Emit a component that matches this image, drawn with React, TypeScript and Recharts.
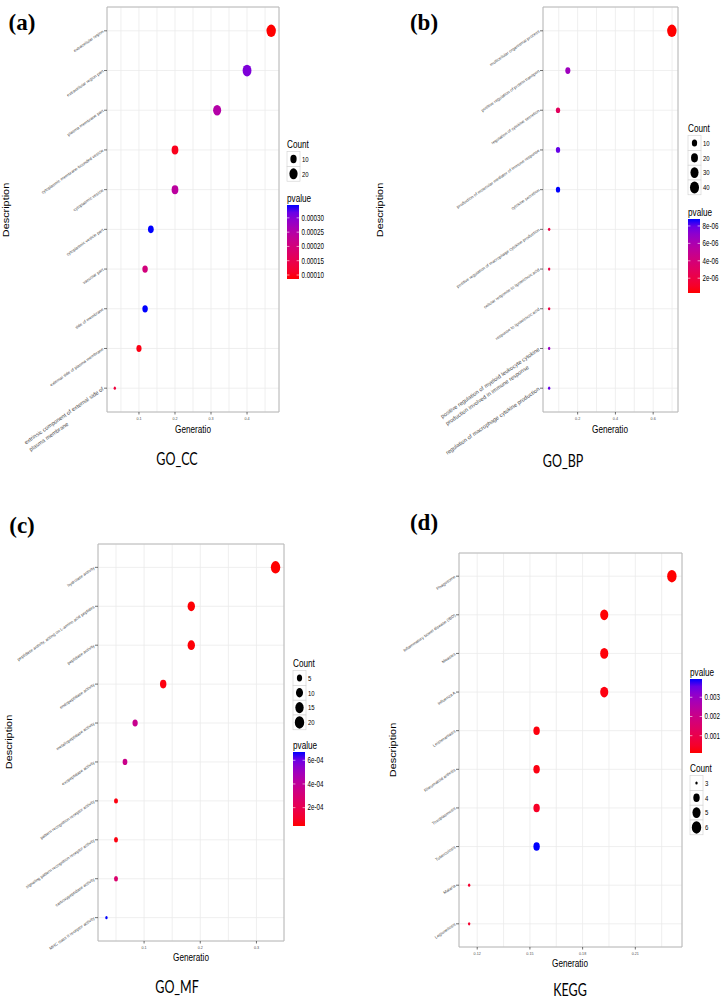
import { ScatterChart, Scatter, XAxis, YAxis, CartesianGrid, ReferenceArea } from "recharts";

const SANS = '"Liberation Sans", Arial, sans-serif';
const STRETCH = 1.33; // the figure is stretched vertically

// ---- (a) GO_CC ----
const ccTerms = [
  "extracellular region",
  "extracellular region part",
  "plasma membrane part",
  "cytoplasmic membrane-bounded vesicle",
  "cytoplasmic vesicle",
  "cytoplasmic vesicle part",
  "vacuolar part",
  "side of membrane",
  "external side of plasma membrane",
  "extrinsic component of external side of\nplasma membrane",
];
const ccRatio = [0.467, 0.4, 0.317, 0.2, 0.2, 0.133, 0.117, 0.117, 0.1, 0.033];
const ccCount = [28, 24, 19, 12, 12, 8, 7, 7, 6, 2];
const ccPvalue = [0.000086, 0.000305, 0.00025, 0.0001, 0.00024, 0.000345, 0.0002, 0.000345, 0.000095, 0.00013];
const ccMajor = [0.1, 0.2, 0.3, 0.4];
const ccMinor = [0.05, 0.15, 0.25, 0.35, 0.45];
const ccBig = [9];
const ccCountBreaks = [10, 20];
const ccPBreaks = [0.0001, 0.00015, 0.0002, 0.00025, 0.0003];
const ccPLabels = ["0.00010", "0.00015", "0.00020", "0.00025", "0.00030"];

// ---- (b) GO_BP ----
const bpTerms = [
  "multicellular organismal process",
  "positive regulation of protein transport",
  "regulation of cytokine secretion",
  "production of molecular mediator of immune response",
  "cytokine secretion",
  "positive regulation of macrophage cytokine production",
  "cellular response to lipoteichoic acid",
  "response to lipoteichoic acid",
  "positive regulation of myeloid leukocyte cytokine\nproduction involved in immune response",
  "regulation of macrophage cytokine production",
];
const bpRatio = [0.699, 0.148, 0.096, 0.096, 0.096, 0.049, 0.049, 0.049, 0.049, 0.049];
const bpCount = [44, 9, 6, 6, 6, 3, 3, 3, 3, 3];
const bpPvalue = [3e-7, 6.5e-6, 2.9e-6, 8.0e-6, 8.8e-6, 2.0e-6, 2.0e-6, 2.0e-6, 6.7e-6, 8.0e-6];
const bpMajor = [0.2, 0.4, 0.6];
const bpMinor = [0.1, 0.3, 0.5, 0.7];
const bpBig = [8, 9];
const bpCountBreaks = [10, 20, 30, 40];
const bpPBreaks = [2e-6, 4e-6, 6e-6, 8e-6];
const bpPLabels = ["2e-06", "4e-06", "6e-06", "8e-06"];

// ---- (c) GO_MF ----
const mfTerms = [
  "hydrolase activity",
  "peptidase activity, acting on L-amino acid peptides",
  "peptidase activity",
  "endopeptidase activity",
  "metallopeptidase activity",
  "exopeptidase activity",
  "pattern recognition receptor activity",
  "signaling pattern recognition receptor activity",
  "carboxypeptidase activity",
  "MHC class II receptor activity",
];
const mfRatio = [0.334, 0.184, 0.184, 0.134, 0.084, 0.066, 0.05, 0.05, 0.05, 0.033];
const mfCount = [20, 11, 11, 8, 5, 4, 3, 3, 3, 2];
const mfPvalue = [4.5e-5, 5e-5, 5.2e-5, 6e-5, 3.7e-4, 3.6e-4, 6e-5, 6e-5, 2.8e-4, 6.7e-4];
const mfMajor = [0.1, 0.2, 0.3];
const mfMinor = [0.05, 0.15, 0.25];
const mfCountBreaks = [5, 10, 15, 20];
const mfPBreaks = [2e-4, 4e-4, 6e-4];
const mfPLabels = ["2e-04", "4e-04", "6e-04"];

// ---- (d) KEGG ----
const keggTerms = [
  "Phagosome",
  "Inflammatory bowel disease (IBD)",
  "Measles",
  "Influenza A",
  "Leishmaniasis",
  "Rheumatoid arthritis",
  "Toxoplasmosis",
  "Tuberculosis",
  "Malaria",
  "Legionellosis",
];
const keggRatio = [0.2308, 0.1923, 0.1923, 0.1923, 0.1538, 0.1538, 0.1538, 0.1538, 0.1154, 0.1154];
const keggCount = [6, 5, 5, 5, 4, 4, 4, 4, 3, 3];
const keggPvalue = [0.0001, 0.00012, 0.00015, 0.0002, 0.00018, 0.00022, 0.00045, 0.00395, 0.00055, 0.00055];
const keggMajor = [0.12, 0.15, 0.18, 0.21];
const keggMinor = [0.135, 0.165, 0.195, 0.225];
const keggCountBreaks = [3, 4, 5, 6];
const keggPBreaks = [0.001, 0.002, 0.003];
const keggPLabels = ["0.001", "0.002", "0.003"];

// red -> blue in CIELAB, like ggplot's continuous colour scale
const toLin = (c: number) => {
  c /= 255;
  return c <= 0.04045 ? c / 12.92 : Math.pow((c + 0.055) / 1.055, 2.4);
};
const fromLin = (c: number) => {
  const v = c <= 0.0031308 ? 12.92 * c : 1.055 * Math.pow(Math.max(c, 0), 1 / 2.4) - 0.055;
  return Math.round(Math.max(0, Math.min(1, v)) * 255);
};
function rgbToLab(rgb: number[]) {
  const [R, G, B] = rgb.map(toLin);
  const X = (0.4124 * R + 0.3576 * G + 0.1805 * B) / 0.95047;
  const Y = 0.2126 * R + 0.7152 * G + 0.0722 * B;
  const Z = (0.0193 * R + 0.1192 * G + 0.9505 * B) / 1.08883;
  const f = (t: number) => (t > 0.008856 ? Math.cbrt(t) : 7.787 * t + 16 / 116);
  return [116 * f(Y) - 16, 500 * (f(X) - f(Y)), 200 * (f(Y) - f(Z))];
}
function labToRgb([L, a, b]: number[]) {
  const fy = (L + 16) / 116;
  const fx = fy + a / 500;
  const fz = fy - b / 200;
  const inv = (t: number) => (t * t * t > 0.008856 ? t * t * t : (t - 16 / 116) / 7.787);
  const X = inv(fx) * 0.95047;
  const Y = inv(fy);
  const Z = inv(fz) * 1.08883;
  const r = 3.2406 * X - 1.5372 * Y - 0.4986 * Z;
  const g = -0.9689 * X + 1.8758 * Y + 0.0415 * Z;
  const bl = 0.0557 * X - 0.204 * Y + 1.057 * Z;
  return `rgb(${fromLin(r)},${fromLin(g)},${fromLin(bl)})`;
}
const RED_LAB = rgbToLab([255, 0, 0]);
const BLUE_LAB = rgbToLab([0, 0, 255]);
const gradColor = (t: number) => labToRgb([0, 1, 2].map((k) => RED_LAB[k] + (BLUE_LAB[k] - RED_LAB[k]) * t));

const range = (a: number[]) => [Math.min(...a), Math.max(...a)];

// ggplot area scale, range 1..6
function dotDiam(c: number, cMin: number, cMax: number) {
  const t = cMax > cMin ? (c - cMin) / (cMax - cMin) : 1;
  const s = 1 + 5 * Math.sqrt(Math.max(0, t));
  return 1.4 * s + 1;
}

let ctx: CanvasRenderingContext2D | null = null;
function textWidth(s: string, size: number) {
  if (!ctx) ctx = document.createElement("canvas").getContext("2d");
  if (!ctx) return s.length * size * 0.5;
  ctx.font = `${size}px ${SANS}`;
  return ctx.measureText(s).width;
}

function XTick(props: any) {
  const { x, y, payload, major } = props;
  if (!major.includes(payload.value)) return <g />;
  return (
    <g>
      <line x1={x} x2={x} y1={y} y2={y + 2.5} stroke="#333" strokeWidth={0.7} />
      <text x={x} y={y + 6.8} textAnchor="middle" dominantBaseline="central" fontSize={3.7} fill="#4d4d4d" fontFamily={SANS}>
        {payload.value}
      </text>
    </g>
  );
}

function YTick(props: any) {
  const { x, y, payload, terms, big } = props;
  const i = payload.value as number;
  const isBig = big.includes(i);
  const size = isBig ? 5.6 : 4.2;
  const lines = String(terms[i]).split("\n");
  const w0 = textWidth(lines[0], size);
  return (
    <g>
      <line x1={x - 3} x2={x} y1={y} y2={y} stroke="#333" strokeWidth={0.7} />
      <g transform={`translate(${x - 4},${y}) rotate(-35)`}>
        {lines.map((ln, k) => (
          <text
            key={k}
            x={k === 0 ? 0 : -w0}
            y={k * 8.5}
            textAnchor={k === 0 ? "end" : "start"}
            dominantBaseline="central"
            fontSize={size}
            fill="#4d4d4d"
            fontFamily={SANS}
          >
            {ln}
          </text>
        ))}
      </g>
    </g>
  );
}

interface PanelProps {
  terms: string[];
  ratio: number[];
  count: number[];
  pvalue: number[];
  major: number[];
  minor: number[];
  big: number[];
  left: number;
  top: number;
  width: number;
  height: number;
  margin: { top: number; right: number; bottom: number; left: number };
}

function DotPanel(props: PanelProps) {
  const { terms, ratio, count, pvalue } = props;
  const n = terms.length;
  const [cMin, cMax] = range(count);
  const [pMin, pMax] = range(pvalue);
  const [rMin, rMax] = range(ratio);
  const pad = (rMax - rMin) * 0.05;
  const xDomain = [rMin - pad, rMax + pad];
  const yDomain = [-0.6, n - 0.4];
  const data = terms.map((term, i) => ({ term, rank: i, ratio: ratio[i], count: count[i], pvalue: pvalue[i] }));
  const xTicks = [...props.major, ...props.minor].sort((a, b) => a - b);
  const yTicks = terms.map((_, i) => i);

  return (
    <div style={{ position: "absolute", left: props.left, top: props.top }}>
      <ScatterChart width={props.width} height={props.height} margin={props.margin}>
        <CartesianGrid stroke="#ebebeb" strokeWidth={0.8} fill="#ffffff" />
        <XAxis
          type="number"
          dataKey="ratio"
          domain={xDomain}
          allowDataOverflow
          ticks={xTicks}
          interval={0}
          height={20}
          axisLine={false}
          tickLine={false}
          tickSize={0}
          tickMargin={0}
          tick={(t: any) => <XTick {...t} major={props.major} />}
        />
        <YAxis
          type="number"
          dataKey="rank"
          domain={yDomain}
          allowDataOverflow
          reversed
          ticks={yTicks}
          interval={0}
          width={10}
          axisLine={false}
          tickLine={false}
          tickSize={0}
          tickMargin={0}
          tick={(t: any) => <YTick {...t} terms={terms} big={props.big} />}
        />
        <ReferenceArea
          x1={xDomain[0]}
          x2={xDomain[1]}
          y1={yDomain[0]}
          y2={yDomain[1]}
          fill="none"
          stroke="#b8b8b8"
          strokeWidth={1}
          ifOverflow="visible"
        />
        <Scatter
          data={data}
          isAnimationActive={false}
          shape={(s: any) => {
            const d = dotDiam(s.payload.count, cMin, cMax);
            const t = (s.payload.pvalue - pMin) / (pMax - pMin);
            return <ellipse cx={s.cx} cy={s.cy} rx={d / 2} ry={(d / 2) * STRETCH} fill={gradColor(t)} />;
          }}
        />
      </ScatterChart>
    </div>
  );
}

function SText(props: { x: number; y: number; size: number; anchor?: string; children: any; rotate?: boolean; family?: string; sx?: number; sy?: number }) {
  const { x, y, size, anchor = "start", rotate = false, family = SANS, sx = 1, sy = STRETCH } = props;
  return (
    <text
      transform={`translate(${x},${y}) scale(${sx},${sy})${rotate ? " rotate(-90)" : ""}`}
      textAnchor={anchor}
      dominantBaseline="central"
      fontSize={size}
      fontFamily={family}
      fill="#000"
    >
      {props.children}
    </text>
  );
}

function CountLegend({ x, y, breaks, counts }: { x: number; y: number; breaks: number[]; counts: number[] }) {
  const [cMin, cMax] = range(counts);
  return (
    <g>
      <SText x={x} y={y} size={8.2}>Count</SText>
      {breaks.map((b, i) => {
        const cy = y + 15 + i * 14.8;
        const d = dotDiam(b, cMin, cMax);
        return (
          <g key={b}>
            <rect x={x} y={cy - 7.4} width={13} height={14.8} fill="#fff" stroke="#d0d0d0" strokeWidth={0.6} />
            <ellipse cx={x + 6.5} cy={cy} rx={d / 2} ry={(d / 2) * STRETCH} fill="#000" />
            <SText x={x + 15} y={cy} size={6}>{b}</SText>
          </g>
        );
      })}
    </g>
  );
}

function PLegend({ x, y, id, pvalues, breaks, labels }: { x: number; y: number; id: string; pvalues: number[]; breaks: number[]; labels: string[] }) {
  const [pMin, pMax] = range(pvalues);
  const top = y + 7;
  const h = 74;
  const w = 12;
  const stops = Array.from({ length: 11 }, (_, k) => k / 10);
  return (
    <g>
      <defs>
        <linearGradient id={id} x1="0" y1="1" x2="0" y2="0">
          {stops.map((s) => (
            <stop key={s} offset={s} stopColor={gradColor(s)} />
          ))}
        </linearGradient>
      </defs>
      <SText x={x} y={y} size={8.2}>pvalue</SText>
      <rect x={x} y={top} width={w} height={h} fill={`url(#${id})`} />
      {breaks.map((b, i) => {
        const by = top + h - ((b - pMin) / (pMax - pMin)) * h;
        return (
          <g key={b}>
            <line x1={x} x2={x + 2.4} y1={by} y2={by} stroke="#fff" strokeWidth={0.6} />
            <line x1={x + w - 2.4} x2={x + w} y1={by} y2={by} stroke="#fff" strokeWidth={0.6} />
            <SText x={x + w + 2.5} y={by} size={6.2}>{labels[i]}</SText>
          </g>
        );
      })}
    </g>
  );
}

export default function App() {
  return (
    <div style={{ position: "absolute", left: 0, top: 0, width: 723, height: 999, background: "#fff", overflow: "hidden" }}>
      <DotPanel
        terms={ccTerms}
        ratio={ccRatio}
        count={ccCount}
        pvalue={ccPvalue}
        major={ccMajor}
        minor={ccMinor}
        big={ccBig}
        left={0}
        top={0}
        width={361}
        height={470}
        margin={{ top: 7, right: 82, bottom: 38, left: 97 }}
      />
      <DotPanel
        terms={bpTerms}
        ratio={bpRatio}
        count={bpCount}
        pvalue={bpPvalue}
        major={bpMajor}
        minor={bpMinor}
        big={bpBig}
        left={361}
        top={0}
        width={362}
        height={470}
        margin={{ top: 7, right: 45, bottom: 38, left: 172 }}
      />
      <DotPanel
        terms={mfTerms}
        ratio={mfRatio}
        count={mfCount}
        pvalue={mfPvalue}
        major={mfMajor}
        minor={mfMinor}
        big={[]}
        left={0}
        top={490}
        width={361}
        height={509}
        margin={{ top: 54, right: 77, bottom: 38, left: 88 }}
      />
      <DotPanel
        terms={keggTerms}
        ratio={keggRatio}
        count={keggCount}
        pvalue={keggPvalue}
        major={keggMajor}
        minor={keggMinor}
        big={[]}
        left={361}
        top={490}
        width={362}
        height={509}
        margin={{ top: 63, right: 41, bottom: 32, left: 88 }}
      />
      <svg width={723} height={999} style={{ position: "absolute", left: 0, top: 0, pointerEvents: "none" }}>
        {/* panel letters */}
        <SText x={22} y={22} size={23} anchor="middle" family='"Liberation Serif", serif' sy={1}>
          <tspan fontWeight="bold">(a)</tspan>
        </SText>
        <SText x={424} y={22} size={23} anchor="middle" family='"Liberation Serif", serif' sy={1}>
          <tspan fontWeight="bold">(b)</tspan>
        </SText>
        <SText x={22} y={525} size={23} anchor="middle" family='"Liberation Serif", serif' sy={1}>
          <tspan fontWeight="bold">(c)</tspan>
        </SText>
        <SText x={424} y={522} size={23} anchor="middle" family='"Liberation Serif", serif' sy={1}>
          <tspan fontWeight="bold">(d)</tspan>
        </SText>

        {/* axis titles */}
        <SText x={6} y={210} size={8.2} anchor="middle" rotate>Description</SText>
        <SText x={380} y={210} size={8.2} anchor="middle" rotate>Description</SText>
        <SText x={9} y={742} size={8.2} anchor="middle" rotate>Description</SText>
        <SText x={393} y={750} size={8.2} anchor="middle" rotate>Description</SText>
        <SText x={193} y={429} size={8.2} anchor="middle">Generatio</SText>
        <SText x={610} y={429} size={8.2} anchor="middle">Generatio</SText>
        <SText x={191} y={957} size={8.2} anchor="middle">Generatio</SText>
        <SText x={570} y={963} size={8.2} anchor="middle">Generatio</SText>

        {/* panel titles */}
        <SText x={177} y={458} size={12.5} anchor="middle" family="Lato, sans-serif" sy={1.4}>GO_CC</SText>
        <SText x={563} y={460} size={12.5} anchor="middle" family="Lato, sans-serif" sy={1.4}>GO_BP</SText>
        <SText x={177} y={986} size={12.5} anchor="middle" family="Lato, sans-serif" sy={1.4}>GO_MF</SText>
        <SText x={570} y={989} size={12.5} anchor="middle" family="Lato, sans-serif" sy={1.35}>KEGG</SText>

        {/* legends */}
        <CountLegend x={287} y={144} breaks={ccCountBreaks} counts={ccCount} />
        <PLegend x={287} y={198} id="gradCC" pvalues={ccPvalue} breaks={ccPBreaks} labels={ccPLabels} />
        <CountLegend x={688} y={128} breaks={bpCountBreaks} counts={bpCount} />
        <PLegend x={688} y={212} id="gradBP" pvalues={bpPvalue} breaks={bpPBreaks} labels={bpPLabels} />
        <CountLegend x={293} y={663} breaks={mfCountBreaks} counts={mfCount} />
        <PLegend x={293} y={745} id="gradMF" pvalues={mfPvalue} breaks={mfPBreaks} labels={mfPLabels} />
        <PLegend x={690} y={672} id="gradKEGG" pvalues={keggPvalue} breaks={keggPBreaks} labels={keggPLabels} />
        <CountLegend x={690} y={768} breaks={keggCountBreaks} counts={keggCount} />
      </svg>
    </div>
  );
}
